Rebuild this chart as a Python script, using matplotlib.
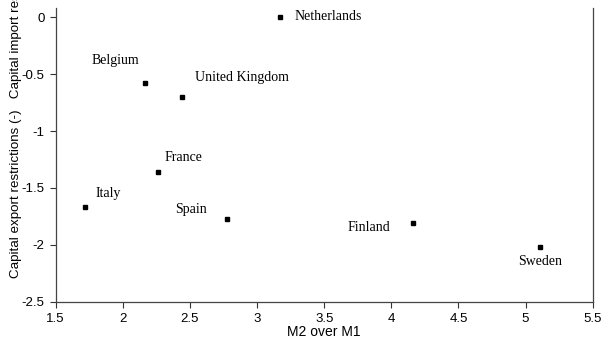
import matplotlib
matplotlib.use("Agg")
import matplotlib.pyplot as plt

# Country data: M2/M1 ratio vs. capital restrictions index
countries = ["Netherlands", "Belgium", "United Kingdom", "France",
             "Italy", "Spain", "Finland", "Sweden"]
m2_over_m1 = [3.17, 2.165, 2.44, 2.26, 1.72, 2.775, 4.16, 5.11]
restrictions = [0.0, -0.58, -0.70, -1.36, -1.67, -1.775, -1.81, -2.015]

x_ticks = [1.5, 2, 2.5, 3, 3.5, 4, 4.5, 5, 5.5]
x_tick_labels = ["1.5", "2", "2.5", "3", "3.5", "4", "4.5", "5", "5.5"]
y_ticks = [0, -0.5, -1, -1.5, -2, -2.5]
y_tick_labels = ["0", "-0.5", "-1", "-1.5", "-2", "-2.5"]

# label offsets in pixels relative to each marker
label_offsets = {
    "Netherlands": (15, 1),
    "Belgium": (-53, 23),
    "United Kingdom": (13, 19),
    "France": (7, 15),
    "Italy": (10, 14),
    "Spain": (-52, 10),
    "Finland": (-65, -4),
    "Sweden": (-22, -15),
}

fig = plt.figure(figsize=(6.01, 3.40), dpi=100)
ax = fig.add_axes([55.7 / 601, 1 - 301.7 / 340, (592.7 - 55.7) / 601, (301.7 - 8) / 340])

ax.plot(m2_over_m1, restrictions, linestyle="none", marker="s",
        markersize=3, color="black")

for name, x, y in zip(countries, m2_over_m1, restrictions):
    dx, dy = label_offsets[name]
    ax.annotate(name, (x, y), xytext=(dx, dy), textcoords="offset pixels",
                ha="left", va="center", fontsize=10,
                family="Liberation Serif", color="black")

ax.set_xlim(1.5, 5.5)
ax.set_ylim(-2.5, 0.082)
ax.set_xticks(x_ticks)
ax.set_xticklabels(x_tick_labels)
ax.set_yticks(y_ticks)
ax.set_yticklabels(y_tick_labels)

for lbl in ax.get_xticklabels() + ax.get_yticklabels():
    lbl.set_family("Liberation Sans")
    lbl.set_fontsize(9.5)

ax.tick_params(direction="out", length=4, width=0.8, color="#333333", pad=4)
ax.spines["top"].set_visible(False)
for side in ("left", "bottom", "right"):
    ax.spines[side].set_color("#444444")
    ax.spines[side].set_linewidth(0.9)

ax.set_xlabel("M2 over M1", family="Liberation Sans", fontsize=10, labelpad=0)

fig.text(16 / 601, 62 / 340,
         "Capital export restrictions (-)   Capital import restrictions (+)",
         rotation=90, ha="center", va="bottom",
         family="Liberation Sans", fontsize=9.6)

fig.savefig("out.png", dpi=100)
